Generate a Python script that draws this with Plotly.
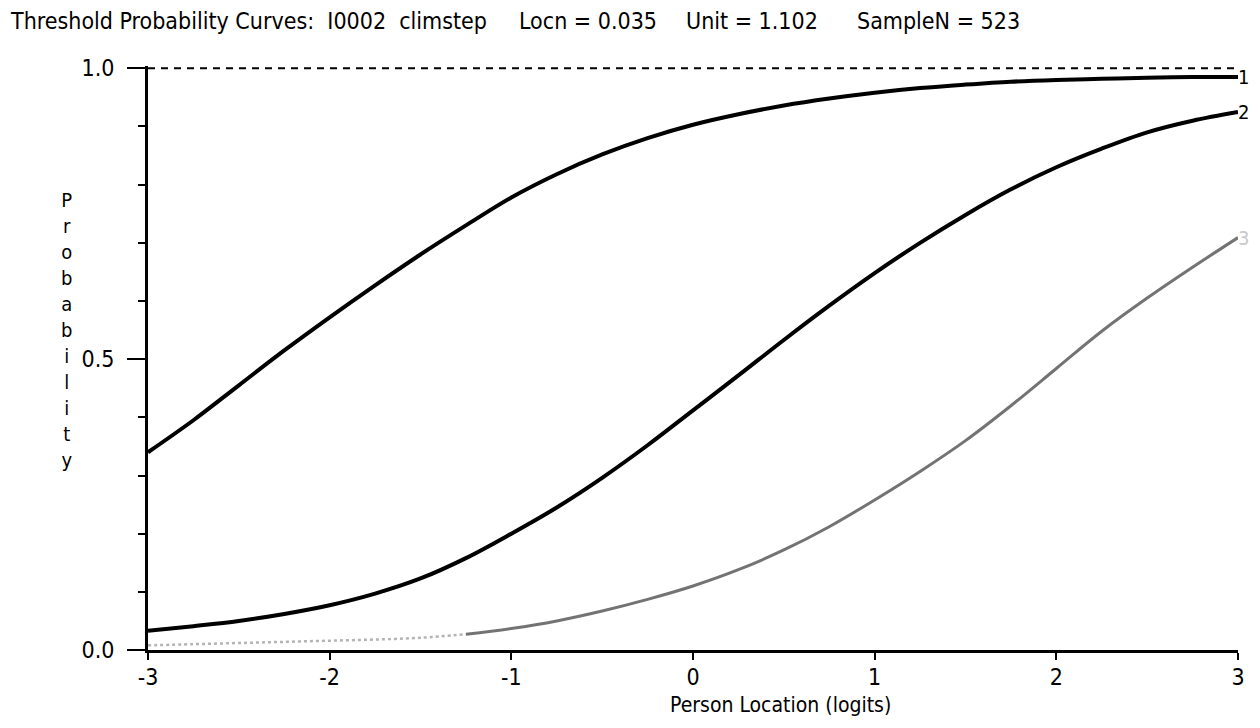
import plotly.graph_objects as go

# ---- data ----
x_vals = [-3.0, -2.75, -2.5, -2.25, -2.0, -1.75, -1.5, -1.25, -1.0, -0.75, -0.5, -0.25,
          0.0, 0.25, 0.5, 0.75, 1.0, 1.25, 1.5, 1.75, 2.0, 2.25, 2.5, 2.75, 3.0]
curve1 = [0.340, 0.395, 0.455, 0.515, 0.572, 0.627, 0.680, 0.730, 0.778, 0.818, 0.852, 0.880,
          0.903, 0.921, 0.936, 0.948, 0.958, 0.966, 0.972, 0.977, 0.980, 0.982, 0.984, 0.985, 0.985]
curve2 = [0.033, 0.041, 0.050, 0.062, 0.077, 0.097, 0.123, 0.158, 0.200, 0.245, 0.296, 0.352,
          0.412, 0.472, 0.533, 0.592, 0.648, 0.700, 0.748, 0.792, 0.830, 0.862, 0.890, 0.910, 0.925]
curve3 = [0.008, 0.010, 0.012, 0.014, 0.016, 0.018, 0.021, 0.027, 0.037, 0.050, 0.067, 0.087,
          0.110, 0.138, 0.172, 0.212, 0.258, 0.307, 0.360, 0.420, 0.484, 0.548, 0.605, 0.658, 0.709]
curve_names = ["1", "2", "3"]
x_ticks = [-3, -2, -1, 0, 1, 2, 3]
y_ticks = [0.0, 0.5, 1.0]
y_ticktext = ["0.0", "0.5", "1.0"]
title_parts = ["Threshold Probability Curves:  I0002  climstep", "Locn = 0.035", "Unit = 1.102", "SampleN = 523"]
title_px = [8, 517, 684, 855]
x_title = "Person Location (logits)"
y_title = "Probability"

FONT = "Liberation Sans Narrow, Arial Narrow, DejaVu Sans Condensed, sans-serif"

OFF = 8  # page body margin of the browser
Y_TOP = 1.004  # tiny headroom so the dashed 1.0 line is not clipped
L, R, B = 148 - OFF, 1238 - OFF, 650 - OFF
T = 68 - OFF - 2
W, H = 1260 - 2 * OFF, 728 - 2 * OFF
PW, PH = R - L, B - T

def px(xp):
    return (xp - OFF - L) / PW

def py(yp):
    return (B - (yp - OFF)) / PH

fig = go.Figure()

# dashed reference line at probability 1.0
fig.add_trace(go.Scatter(x=[x_vals[0], x_vals[-1]], y=[1.0, 1.0], mode="lines",
                         line=dict(color="black", width=2, dash="7px,6px"),
                         hoverinfo="skip", showlegend=False))

# curve 3: faint dotted at left, grey solid afterwards
split = 7
fig.add_trace(go.Scatter(x=x_vals[:split + 1], y=curve3[:split + 1], mode="lines",
                         line=dict(color="#b4b4b4", width=2.5, dash="dot", shape="spline"),
                         showlegend=False, name=curve_names[2]))
fig.add_trace(go.Scatter(x=x_vals[split:], y=curve3[split:], mode="lines",
                         line=dict(color="#737373", width=3, shape="spline"),
                         showlegend=False, name=curve_names[2]))
fig.add_trace(go.Scatter(x=x_vals, y=curve2, mode="lines",
                         line=dict(color="black", width=4, shape="spline"),
                         showlegend=False, name=curve_names[1]))
fig.add_trace(go.Scatter(x=x_vals, y=curve1, mode="lines",
                         line=dict(color="black", width=4, shape="spline"),
                         showlegend=False, name=curve_names[0]))

annotations = []
for t, xp in zip(title_parts, title_px):
    annotations.append(dict(text=t, x=px(xp), y=py(21), xref="paper", yref="paper",
                            xanchor="left", yanchor="middle", showarrow=False,
                            font=dict(family=FONT, size=23, color="black")))
# curve end labels
for name, series, col in zip(curve_names, [curve1, curve2, curve3], ["black", "black", "#c8c8c8"]):
    annotations.append(dict(text=name, x=x_vals[-1], y=series[-1], xref="x", yref="y",
                            xanchor="left", yanchor="middle", xshift=-1, showarrow=False,
                            borderpad=0, font=dict(family=FONT, size=20, color=col)))
# axis titles
annotations.append(dict(text=x_title, x=px(780), y=py(705), xref="paper", yref="paper",
                        xanchor="center", yanchor="middle", showarrow=False,
                        font=dict(family=FONT, size=21, color="black")))
annotations.append(dict(text="<br>".join(list(y_title)), x=px(66), y=py(330), xref="paper",
                        yref="paper", xanchor="center", yanchor="middle", showarrow=False,
                        align="center", font=dict(family=FONT, size=20, color="black")))

fig.update_layout(
    width=W, height=H,
    margin=dict(l=L, r=W - R, t=T, b=H - B, pad=0, autoexpand=False),
    paper_bgcolor="white", plot_bgcolor="white",
    font=dict(family=FONT, size=23, color="black"),
    annotations=annotations,
    showlegend=False,
)
fig.update_xaxes(range=[-3, 3], tickvals=x_ticks, ticktext=[str(v) for v in x_ticks],
                 showgrid=False, zeroline=False, showline=True, linecolor="black", linewidth=3,
                 ticks="outside", ticklen=7, tickwidth=2, tickcolor="black",
                 tickfont=dict(family=FONT, size=23), ticklabelstandoff=-3,
                 automargin=False, fixedrange=True)
fig.update_yaxes(range=[0, Y_TOP], tickvals=y_ticks, ticktext=y_ticktext,
                 showgrid=False, zeroline=False, showline=True, linecolor="black", linewidth=3,
                 ticks="outside", ticklen=18, tickwidth=2, tickcolor="black",
                 minor=dict(tickvals=[0.1, 0.2, 0.3, 0.4, 0.6, 0.7, 0.8, 0.9], ticks="outside",
                            ticklen=7, tickwidth=1.5, tickcolor="black"),
                 tickfont=dict(family=FONT, size=23), ticklabelstandoff=8,
                 automargin=False, fixedrange=True)

fig.write_html("out.html")
